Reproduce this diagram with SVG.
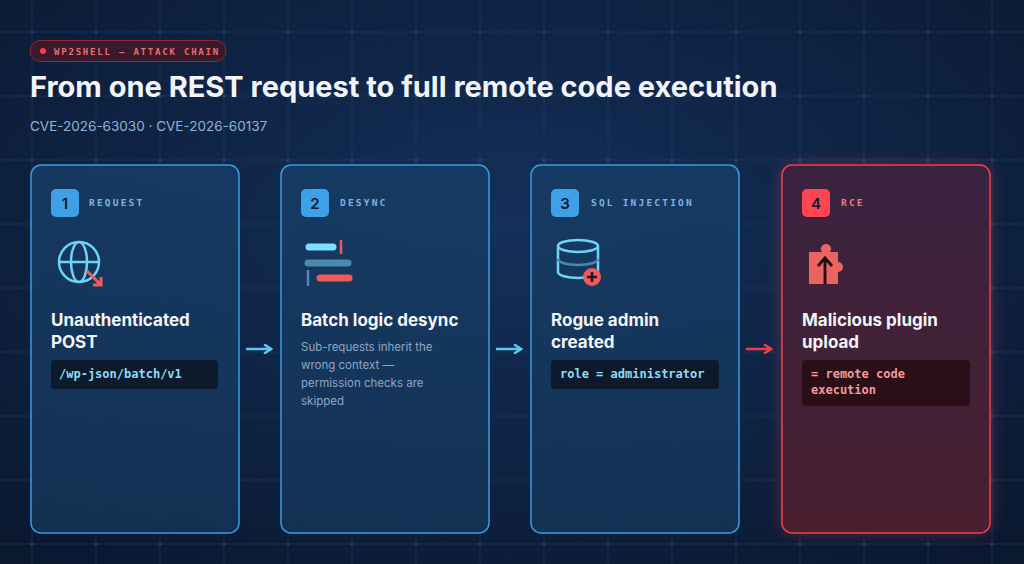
<svg xmlns="http://www.w3.org/2000/svg" width="1024" height="564" viewBox="0 0 1024 564">
<defs>
<radialGradient id="bg" cx="50%" cy="40%" r="75%"><stop offset="0" stop-color="#14305a"/><stop offset="1" stop-color="#0a1830"/></radialGradient>
<linearGradient id="cb" x1="0" y1="0" x2="0" y2="1"><stop offset="0" stop-color="#173d66" stop-opacity="0.85"/><stop offset="1" stop-color="#143457" stop-opacity="0.85"/></linearGradient>
<linearGradient id="cr" x1="0" y1="0" x2="0" y2="1"><stop offset="0" stop-color="#3a2340"/><stop offset="1" stop-color="#4a1f30"/></linearGradient>
<filter id="glow" x="-20%" y="-20%" width="140%" height="140%"><feGaussianBlur stdDeviation="8"/></filter>
<marker id="ab" markerWidth="10" markerHeight="10" refX="8" refY="5" orient="auto" markerUnits="userSpaceOnUse"><path d="M2,1 L8,5 L2,9" fill="none" stroke="#5cc8ef" stroke-width="2.5" stroke-linecap="round"/></marker>
<marker id="ar" markerWidth="10" markerHeight="10" refX="8" refY="5" orient="auto" markerUnits="userSpaceOnUse"><path d="M2,1 L8,5 L2,9" fill="none" stroke="#ef3f4a" stroke-width="2.5" stroke-linecap="round"/></marker>
<pattern id="grid" width="64" height="64" patternUnits="userSpaceOnUse"><path d="M0,32 H64 M32,0 V64" stroke="#1e3f66" stroke-width="1" opacity="0.5"/><circle cx="32" cy="32" r="1.5" fill="#2a5a8a" opacity="0.6"/></pattern>
</defs>
<style>
.card{stroke-width:1.5}
.blue{fill:url(#cb);stroke:#3a9be0}
.red{fill:url(#cr);stroke:#ef3f4a}
.num{font:600 15px "Inter","DejaVu Sans",sans-serif;fill:#0d1b30}
.lab{font:700 9.5px "DejaVu Sans Mono","Liberation Mono",monospace;letter-spacing:2.2px}
.ttl{font:700 17px "Inter","DejaVu Sans",sans-serif;fill:#f2f4f8}
.code{font:600 12px "DejaVu Sans Mono","Liberation Mono",monospace}
.desc{font:11.5px "Inter","DejaVu Sans",sans-serif;fill:#8fa6c4}
</style>
<rect width="1024" height="564" fill="url(#bg)"/>
<rect width="1024" height="564" fill="url(#grid)"/>
<g id="header">
<rect x="30" y="40.5" width="196" height="21" rx="10.5" fill="#3a1a2a" stroke="#8a2a3a"/>
<circle cx="43" cy="51" r="3" fill="#ff3b4a"/>
<text x="54" y="54.5" font-family="DejaVu Sans Mono,monospace" font-size="9" font-weight="700" letter-spacing="1.8" fill="#f06a70">WP2SHELL — ATTACK CHAIN</text>
<text x="30" y="97" font-family="Inter,DejaVu Sans,sans-serif" font-size="29" font-weight="700" fill="#f2f4f8">From one REST request to full remote code execution</text>
<text x="30" y="131" font-family="Inter,DejaVu Sans,sans-serif" font-size="13.5" fill="#8fb4d8">CVE-2026-63030 · CVE-2026-60137</text>
</g>
<g id="connectors" stroke-width="2.5" stroke-linecap="round">
<line x1="247" y1="349" x2="271" y2="349" stroke="#5cc8ef" marker-end="url(#ab)"/>
<line x1="497" y1="349" x2="521" y2="349" stroke="#5cc8ef" marker-end="url(#ab)"/>
<line x1="747" y1="349" x2="771" y2="349" stroke="#ef3f4a" marker-end="url(#ar)"/>
</g>
<g id="card1">
<rect class="card blue" x="31" y="165" width="208" height="368" rx="10"/>
<rect x="51" y="189" width="28" height="28" rx="5" fill="#3ea0e6"/>
<text class="num" x="65" y="209" text-anchor="middle">1</text>
<text class="lab" x="89" y="206" fill="#7fb4e0">REQUEST</text>
<g fill="none" stroke="#6fd3f5" stroke-width="2.5"><circle cx="79" cy="262" r="20"/><ellipse cx="79" cy="262" rx="8" ry="20"/><line x1="59" y1="262" x2="99" y2="262"/></g>
<path d="M87,271 L101,285 M93,285 H101 V277" fill="none" stroke="#ef5a5a" stroke-width="3"/>
<text class="ttl" x="51" y="326">Unauthenticated</text>
<text class="ttl" x="51" y="348">POST</text>
<rect x="51" y="360" width="167" height="29" rx="4" fill="#0c1a2c"/>
<text class="code" x="59" y="378" fill="#8fdcf8">/wp-json/batch/v1</text>
</g>
<g id="card2">
<rect class="card blue" x="281" y="165" width="208" height="368" rx="10"/>
<rect x="301" y="189" width="28" height="28" rx="5" fill="#3ea0e6"/>
<text class="num" x="315" y="209" text-anchor="middle">2</text>
<text class="lab" x="340" y="206" fill="#7fb4e0">DESYNC</text>
<g stroke-linecap="round" stroke-width="7"><line x1="309" y1="247" x2="333" y2="247" stroke="#7ee0ff"/><line x1="308" y1="263" x2="348" y2="263" stroke="#4a8ab0"/><line x1="320" y1="278" x2="349" y2="278" stroke="#ef5a5a"/></g>
<line x1="341" y1="240" x2="341" y2="254" stroke="#ef5a5a" stroke-width="2.5"/>
<line x1="308" y1="270" x2="308" y2="286" stroke="#4a8ab0" stroke-width="2.5"/>
<text class="ttl" x="301" y="326">Batch logic desync</text>
<text class="desc" x="301" y="351">Sub-requests inherit the</text>
<text class="desc" x="301" y="369">wrong context —</text>
<text class="desc" x="301" y="387">permission checks are</text>
<text class="desc" x="301" y="405">skipped</text>
</g>
<g id="card3">
<rect class="card blue" x="531" y="165" width="208" height="368" rx="10"/>
<rect x="551" y="189" width="28" height="28" rx="5" fill="#3ea0e6"/>
<text class="num" x="565" y="209" text-anchor="middle">3</text>
<text class="lab" x="591" y="206" fill="#7fb4e0">SQL INJECTION</text>
<g fill="none" stroke="#6fd3f5" stroke-width="2.5"><ellipse cx="578" cy="246" rx="20" ry="6"/><path d="M558,246 V272 A20,6 0 0 0 598,272 V246"/></g>
<path d="M558,259 A20,6 0 0 0 598,259" fill="none" stroke="#4a8ab0" stroke-width="2.5"/>
<circle cx="592" cy="277" r="9" fill="#ef5a5a"/>
<path d="M587,277 H597 M592,272 V282" stroke="#2a1420" stroke-width="2.5"/>
<text class="ttl" x="551" y="326">Rogue admin</text>
<text class="ttl" x="551" y="348">created</text>
<rect x="551" y="360" width="168" height="29" rx="4" fill="#0c1a2c"/>
<text class="code" x="560" y="378" fill="#8fdcf8">role = administrator</text>
</g>
<g id="card4">
<rect x="782" y="165" width="208" height="368" rx="10" fill="#ef3f4a" opacity="0.35" filter="url(#glow)"/>
<rect class="card red" x="782" y="165" width="208" height="368" rx="10"/>
<rect x="802" y="189" width="28" height="28" rx="5" fill="#ff4452"/>
<text class="num" x="816" y="209" text-anchor="middle">4</text>
<text class="lab" x="841" y="206" fill="#f07a80">RCE</text>
<path d="M809,252 H822 A5,5 0 1 1 830,252 H838 V262 A5,5 0 1 1 838,272 V284 H809 Z" fill="#ec6460"/>
<path d="M825,284 V259 M818,266 L825,258 L832,266" fill="none" stroke="#1a0c12" stroke-width="2.8"/>
<text class="ttl" x="802" y="326">Malicious plugin</text>
<text class="ttl" x="802" y="348">upload</text>
<rect x="802" y="360" width="168" height="46" rx="4" fill="#2a0e18"/>
<text class="code" x="811" y="378" fill="#f39a9a">= remote code</text>
<text class="code" x="811" y="394" fill="#f39a9a">execution</text>
</g>
</svg>
